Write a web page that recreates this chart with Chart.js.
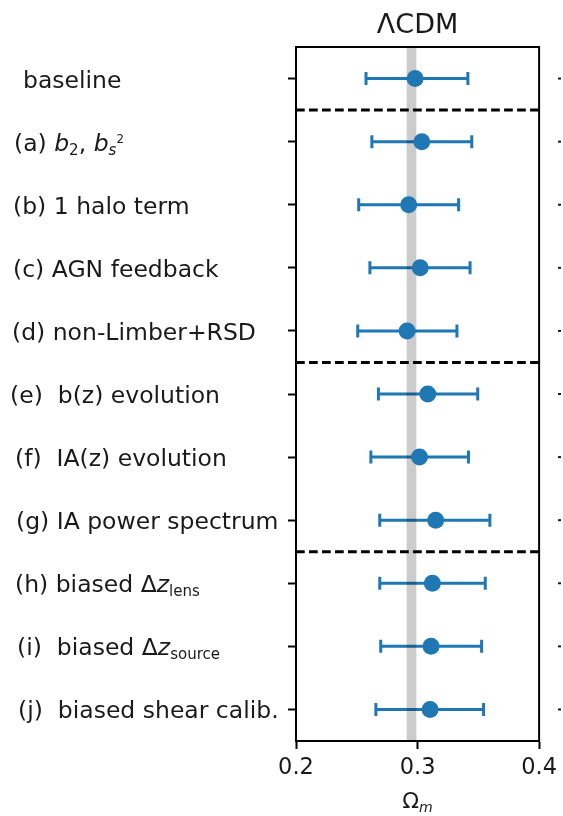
<!DOCTYPE html>
<html>
<head>
<meta charset="utf-8">
<script src="https://cdn.jsdelivr.net/npm/chart.js@4"></script>
<style>
  body { margin: 0; background: #fff; }
  #wrap { width: 563px; height: 816px; position: relative; }
</style>
</head>
<body>
<div id="wrap"><canvas id="omChart"></canvas></div>
<script>
// Row labels as rich-text pieces: it = italic, lvl 1 = subscript, lvl 2 = superscript on a subscript
const rowLabels = [
    [{ t: 'baseline' }],
    [{ t: '(a) ' }, { t: 'b', it: 1 }, { t: '2', lvl: 1 }, { t: ', ' }, { t: 'b', it: 1 }, { t: 's', it: 1, lvl: 1 }, { t: '2', lvl: 2 }],
    [{ t: '(b) 1 halo term' }],
    [{ t: '(c) AGN feedback' }],
    [{ t: '(d) non-Limber+RSD' }],
    [{ t: '(e)  b(z) evolution' }],
    [{ t: '(f)  IA(z) evolution' }],
    [{ t: '(g) IA power spectrum' }],
    [{ t: '(h) biased \u0394' }, { t: 'z', it: 1 }, { t: 'lens', lvl: 1 }],
    [{ t: '(i)  biased \u0394' }, { t: 'z', it: 1 }, { t: 'source', lvl: 1 }],
    [{ t: '(j)  biased shear calib.' }]
];

// Omega_m best fit and the lower / upper ends of each error bar
const omegaM  = [0.2980, 0.3035, 0.2927, 0.3022, 0.2914, 0.3084, 0.3016, 0.3149, 0.3122, 0.3111, 0.3103];
const omegaLo = [0.2576, 0.2624, 0.2516, 0.2608, 0.2508, 0.2678, 0.2616, 0.2689, 0.2689, 0.2697, 0.2657];
const omegaHi = [0.3414, 0.3446, 0.3338, 0.3432, 0.3324, 0.3495, 0.3419, 0.3595, 0.3557, 0.3527, 0.3543];

const fiducialBand = [0.291, 0.299];   // grey band of the input value
const groupBreaks = [0.5, 4.5, 7.5];   // dashed separators between rows
const xTicks = [0.2, 0.3, 0.4];

// left edge of each row label
const labelX = [23, 14, 13, 13, 12, 10, 15, 16, 15, 17, 18];

const FONT = 'DejaVu Sans';
const BLUE = '#1f77b4';
const LABEL_SIZE = 23.5;

function segSize(s, size) {
    if (s.lvl === 1) return size * 0.64;
    if (s.lvl === 2) return size * 0.5;
    return size;
}

function drawRich(ctx, segs, x, y, size) {
    segs.forEach(s => {
        const fs = segSize(s, size);
        const dy = s.lvl === 1 ? 4 : (s.lvl === 2 ? -8 : 0);
        ctx.font = (s.it ? 'italic ' : '') + fs + 'px "' + FONT + '"';
        ctx.fillText(s.t, x, y + dy);
        x += ctx.measureText(s.t).width;
    });
    return x;
}

function richWidth(ctx, segs, size) {
    let w = 0;
    segs.forEach(s => {
        ctx.font = (s.it ? 'italic ' : '') + segSize(s, size) + 'px "' + FONT + '"';
        w += ctx.measureText(s.t).width;
    });
    return w;
}

const errorBars = {
    id: 'errorBars',
    beforeDatasetsDraw(chart) {
        const ctx = chart.ctx, xs = chart.scales.x, ys = chart.scales.y, a = chart.chartArea;
        ctx.save();
        // error bars with caps
        ctx.strokeStyle = BLUE;
        ctx.lineWidth = 3;
        omegaM.forEach((m, i) => {
            const y = ys.getPixelForValue(i);
            const x0 = xs.getPixelForValue(omegaLo[i]);
            const x1 = xs.getPixelForValue(omegaHi[i]);
            ctx.beginPath();
            ctx.moveTo(x0, y); ctx.lineTo(x1, y);
            ctx.moveTo(x0, y - 6.5); ctx.lineTo(x0, y + 6.5);
            ctx.moveTo(x1, y - 6.5); ctx.lineTo(x1, y + 6.5);
            ctx.stroke();
        });
        // fiducial band
        const b0 = xs.getPixelForValue(fiducialBand[0]);
        const b1 = xs.getPixelForValue(fiducialBand[1]);
        ctx.fillStyle = 'rgba(0,0,0,0.2)';
        ctx.fillRect(b0, a.top, b1 - b0, a.bottom - a.top);
        // dashed separators, pattern stretched so a dash ends on each spine
        const span = a.right - a.left;
        const period = (span - 9) / 18;
        ctx.strokeStyle = '#000';
        ctx.lineWidth = 3;
        ctx.setLineDash([period * 0.67, period * 0.33]);
        groupBreaks.forEach(v => {
            const y = ys.getPixelForValue(v);
            ctx.beginPath();
            ctx.moveTo(a.left, y); ctx.lineTo(a.right, y);
            ctx.stroke();
        });
        ctx.restore();
    },
    afterDraw(chart) {
        const ctx = chart.ctx, ys = chart.scales.y, a = chart.chartArea;
        ctx.save();
        ctx.fillStyle = '#1a1a1a';
        ctx.textBaseline = 'alphabetic';
        // frame
        ctx.strokeStyle = '#000';
        ctx.lineWidth = 2;
        ctx.strokeRect(a.left, a.top, a.right - a.left, a.bottom - a.top);
        // row labels
        rowLabels.forEach((segs, i) => {
            drawRich(ctx, segs, labelX[i], ys.getPixelForValue(i) + 9, LABEL_SIZE);
        });
        // tick stubs of the neighbouring panel
        rowLabels.forEach((_, i) => {
            ctx.fillRect(558, ys.getPixelForValue(i) - 1, 3, 2);
        });
        // title
        const cx = (a.left + a.right) / 2;
        ctx.font = '27px "' + FONT + '"';
        ctx.textAlign = 'center';
        ctx.fillText('\u039bCDM', cx, 33);
        // x axis title
        ctx.textAlign = 'left';
        const xl = [{ t: '\u03a9' }, { t: 'm', it: 1, lvl: 1 }];
        const w = richWidth(ctx, xl, 22);
        drawRich(ctx, xl, cx - w / 2, 808, 22);
        ctx.restore();
    }
};

const ctx = document.getElementById('omChart').getContext('2d');
new Chart(ctx, {
    type: 'scatter',
    data: {
        datasets: [{
            data: omegaM.map((m, i) => ({ x: m, y: i })),
            backgroundColor: BLUE,
            borderColor: BLUE,
            pointRadius: 8.5,
            pointHoverRadius: 8.5,
            borderWidth: 0
        }]
    },
    options: {
        responsive: true,
        maintainAspectRatio: false,
        animation: false,
        layout: { padding: { top: 47, right: 21, left: 0, bottom: 0 } },
        plugins: { legend: { display: false }, tooltip: { enabled: false } },
        scales: {
            x: {
                type: 'linear',
                min: 0.2,
                max: 0.4,
                afterBuildTicks: s => { s.ticks = xTicks.map(v => ({ value: v })); },
                afterFit: s => { s.height = 75; },
                ticks: {
                    color: '#1a1a1a',
                    font: { family: FONT, size: 22.5 },
                    padding: 6,
                    maxRotation: 0,
                    callback: v => v.toFixed(1)
                },
                grid: { drawOnChartArea: false, drawTicks: true, tickLength: 8, tickWidth: 2, tickColor: '#000' },
                border: { color: '#000', width: 2 }
            },
            y: {
                type: 'linear',
                min: -0.5,
                max: 10.5,
                reverse: true,
                afterBuildTicks: s => { s.ticks = rowLabels.map((_, i) => ({ value: i })); },
                afterFit: s => { s.width = 296; },
                ticks: { callback: () => '' },
                grid: { drawOnChartArea: false, drawTicks: true, tickLength: 8, tickWidth: 2, tickColor: '#000' },
                border: { color: '#000', width: 2 }
            }
        }
    },
    plugins: [errorBars]
});
</script>
</body>
</html>
